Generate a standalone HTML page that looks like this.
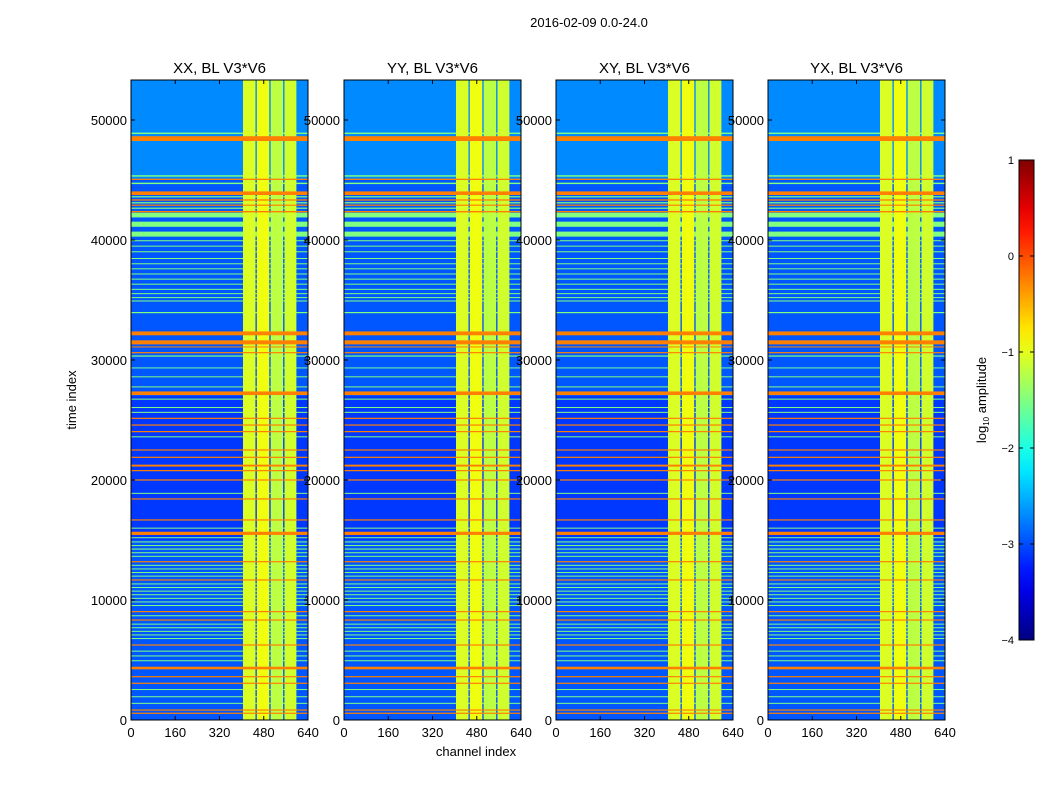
<!DOCTYPE html>
<html><head><meta charset="utf-8"><style>
body{margin:0;background:#fff;font-family:"Liberation Sans",sans-serif;}
svg text{font-family:"Liberation Sans",sans-serif;fill:#000;}
</style></head><body>
<svg id="fig" width="1050" height="800">
<text x="589" y="27" font-size="13" text-anchor="middle">2016-02-09 0.0-24.0</text>
<g id="panels"></g>
<g id="cbar"></g>
<text x="476" y="756" font-size="13" text-anchor="middle">channel index</text>
<text transform="translate(76,400) rotate(-90)" font-size="13" text-anchor="middle">time index</text>
<text transform="translate(986,400) rotate(-90)" font-size="13" text-anchor="middle">log<tspan font-size="8" dy="3">10</tspan><tspan dy="-3"> amplitude</tspan></text>
</svg>
<script>
const panelTitles=["XX, BL V3*V6","YY, BL V3*V6","XY, BL V3*V6","YX, BL V3*V6"];
const xTicks=[0,160,320,480,640];
const yTicks=[0,10000,20000,30000,40000,50000];
const cbTicks=[1,0,-1,-2,-3,-4];
// background regions [t0,t1,value]
const bgBands=[[0,15000,-2.95],[15000,27000,-3.1],[27000,45000,-2.95],[45000,53333,-2.7]];
// channel bands [c0,c1,value]
const chanBands=[[405,450,-1.05],[455,500,-0.95],[505,550,-1.2],[555,598,-1.1]];
// time rows [t0,t1,value]
const rows=[
[48830,48950,-1.5],[48250,48650,-0.25],[45280,45400,-1.5],[45000,45110,-0.25],[44660,44780,-1.5],
[43750,44050,-0.25],[43550,43650,-1.5],[43280,43390,-0.25],[43050,43150,-1.5],[42850,42950,-0.25],
[42600,42700,-1.5],[42300,42420,-0.25],[41880,42270,-1.5],[41100,41530,-1.5],[40280,40700,-1.5],
[39900,39980,-1.5],[39450,39530,-1.5],[38980,39060,-1.5],[38420,38500,-1.5],[37980,38060,-1.5],
[37560,37640,-1.5],[37130,37210,-1.5],[36700,36780,-1.5],[36280,36360,-1.5],[35850,35930,-1.5],
[35490,35570,-1.5],[35160,35240,-1.5],[34880,34960,-1.5],[33900,34000,-1.5],
[32060,32380,-0.25],[31300,31640,-0.25],[31050,31130,-0.25],[30560,30660,-0.25],[30280,30380,-1.5],
[29300,29380,-1.6],[28560,28640,-1.5],[27720,27800,-1.5],[27080,27380,-0.25],[26700,26780,-1.5],
[26000,26080,-1.5],[25600,25680,-1.5],[25090,25190,-0.25],[24530,24630,-0.25],[23980,24080,-0.25],
[23560,23640,-1.5],[22450,22550,-0.25],[21840,21940,-0.25],[21120,21280,-0.25],[20730,20830,-0.25],
[19950,20050,-0.25],[18850,18930,-1.5],[18370,18470,-0.25],[16620,16720,-0.25],[15950,16030,-1.5],
[15420,15690,-0.25],[15150,15230,-1.5],
[14800,14880,-1.5],[14500,14580,-1.5],[14200,14290,-1.5],[13900,13980,-1.5],[13600,13680,-1.5],
[13140,13240,-0.25],[12850,12930,-1.5],[12550,12630,-1.5],[12250,12330,-1.5],[11950,12030,-1.5],
[11620,11720,-0.25],[11300,11380,-1.5],[11000,11080,-1.5],[10700,10780,-1.5],[10400,10480,-1.5],
[10100,10180,-1.5],[9800,9880,-1.5],[9500,9580,-1.5],[8980,9080,-0.25],[8650,8730,-1.5],
[8280,8380,-0.25],[7950,8030,-1.5],[7650,7730,-1.5],[7350,7430,-1.5],[7050,7130,-1.5],
[6750,6830,-1.5],[6200,6300,-0.25],[5700,5780,-1.5],[5300,5380,-1.5],[4900,4980,-1.5],
[4220,4440,-0.25],[3560,3660,-0.25],[3010,3110,-0.25],[2500,2580,-1.5],[1900,1980,-1.5],
[1350,1430,-1.5],[780,880,-0.25],[510,610,-0.25]];
const TMAX=53333, CMAX=640, VMIN=-4, VMAX=1;
const panelX=[131,344,556,768], PW=177, PT=80, PB=720;
function jet(v){let t=(v-VMIN)/(VMAX-VMIN);const c=x=>Math.round(255*Math.max(0,Math.min(1,1.5-Math.abs(4*t-x))));return `rgb(${c(3)},${c(2)},${c(1)})`;}
const NS="http://www.w3.org/2000/svg";
function mk(tag,at,parent){const e=document.createElementNS(NS,tag);for(const k in at)e.setAttribute(k,at[k]);parent.appendChild(e);return e;}
const panelsG=document.getElementById('panels');
panelTitles.forEach((title,pi)=>{
  const x0=panelX[pi];
  const xs=c=>x0+c/CMAX*PW, ys=t=>PB-t/TMAX*(PB-PT);
  const g=mk('g',{},panelsG);
  
  
  const hm=mk('g',{},g);
  
  
  bgBands.forEach(b=>{const r=mk('rect',{x:xs(0),y:ys(b[1]),width:PW,height:ys(b[0])-ys(b[1]),fill:jet(b[2])},hm);
    });
  const drawRow=r0=>{const r=mk('rect',{x:xs(0),y:ys(r0[1]),width:PW,height:Math.max(1,ys(r0[0])-ys(r0[1])),fill:jet(r0[2])},hm);
    };
  rows.filter(r=>r[2]<=-1).forEach(drawRow);
  chanBands.forEach(b=>{const r=mk('rect',{x:xs(b[0]),y:PT,width:xs(b[1])-xs(b[0]),height:PB-PT,fill:jet(b[2])},hm);
    });
  rows.filter(r=>r[2]>-1).forEach(drawRow);
  const fr=mk('rect',{x:x0,y:PT,width:PW,height:PB-PT,fill:'none',stroke:'#000','stroke-width':1},g);
  
  const tt=mk('text',{x:x0+PW/2,y:PT-7,'font-size':15,'text-anchor':'middle'},g);tt.textContent=title;
  
  xTicks.forEach(v=>{const X=xs(v);
    mk('line',{x1:X,x2:X,y1:PB,y2:PB-4,stroke:'#000'},g);mk('line',{x1:X,x2:X,y1:PT,y2:PT+4,stroke:'#000'},g);
    const t=mk('text',{x:X,y:PB+17,'font-size':13,'text-anchor':'middle'},g);t.textContent=v;
    });
  yTicks.forEach(v=>{const Y=ys(v);
    mk('line',{x1:x0,x2:x0+4,y1:Y,y2:Y,stroke:'#000'},g);mk('line',{x1:x0+PW,x2:x0+PW-4,y1:Y,y2:Y,stroke:'#000'},g);
    const t=mk('text',{x:x0-4,y:Y+5,'font-size':13,'text-anchor':'end'},g);t.textContent=v;
    });
});
const cb=document.getElementById('cbar');


const CX=1019,CW=15,CT=160,CB=640;
const defs=mk('defs',{},cb);const lg=mk('linearGradient',{id:'jetg',x1:0,y1:1,x2:0,y2:0},defs);
for(let i=0;i<=20;i++){mk('stop',{offset:i/20,'stop-color':jet(VMIN+(VMAX-VMIN)*i/20)},lg);}
mk('rect',{x:CX,y:CT,width:CW,height:CB-CT,fill:'url(#jetg)',stroke:'#000'},cb);
cbTicks.forEach(v=>{const Y=CB-(v-VMIN)/(VMAX-VMIN)*(CB-CT);
  mk('line',{x1:CX,x2:CX+4,y1:Y,y2:Y,stroke:'#000'},cb);mk('line',{x1:CX+CW,x2:CX+CW-4,y1:Y,y2:Y,stroke:'#000'},cb);
  const t=mk('text',{x:CX-5,y:Y+4,'font-size':11,'text-anchor':'end'},cb);t.textContent=v<0?'\u2212'+(-v):v;
  });
</script>
</body></html>
